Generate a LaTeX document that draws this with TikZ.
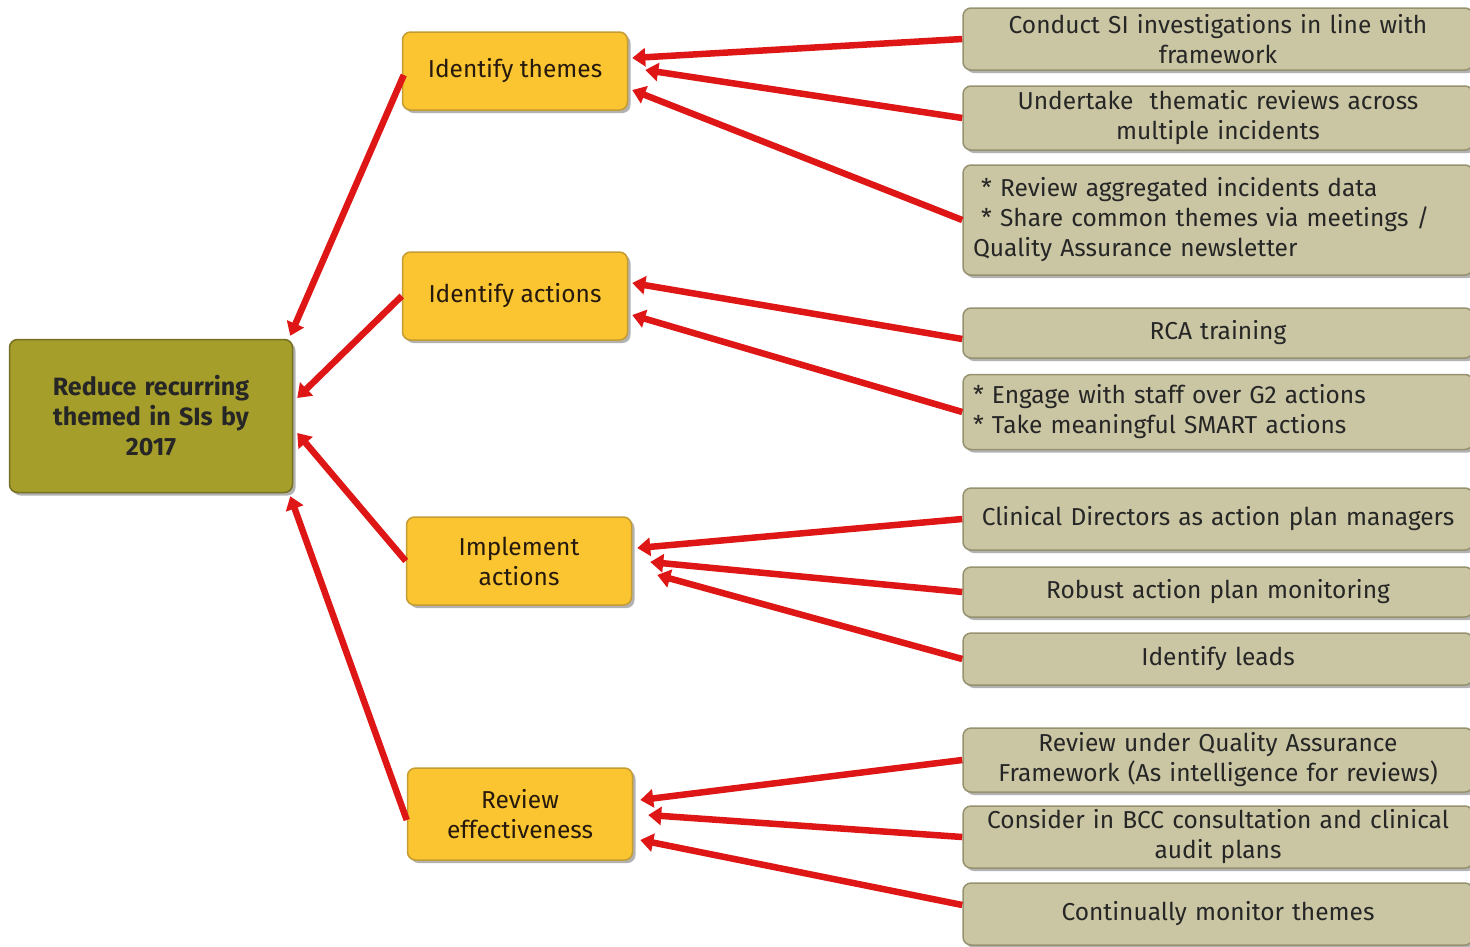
\documentclass[tikz,border=0pt]{standalone}
\usepackage{fontspec}
\setsansfont{Fira Sans}
\usepackage{xcolor}
\usepackage{tikz}
\usetikzlibrary{shapes,arrows.meta,positioning,shadows}

\definecolor{goalfill}{RGB}{166,158,42}
\definecolor{goaldraw}{RGB}{118,112,34}
\definecolor{aimfill}{RGB}{250,197,48}
\definecolor{aimdraw}{RGB}{196,156,52}
\definecolor{actfill}{RGB}{202,198,163}
\definecolor{actdraw}{RGB}{150,146,112}
\definecolor{linkred}{RGB}{222,22,22}

\begin{document}
\begin{tikzpicture}[x=1pt, y=-1pt, font=\sffamily\fontsize{24.5pt}{30pt}\selectfont,
    goalbox/.style={rectangle, draw=goaldraw, line width=1.5pt, fill=goalfill, rounded corners=8pt, text width=260pt, align=center, minimum width=283pt, minimum height=153pt, font=\sffamily\bfseries\fontsize{25pt}{30pt}\selectfont, text=black!85, drop shadow={shadow xshift=3pt, shadow yshift=-3pt, opacity=0.5, fill=black!60}},
    aimbox/.style={rectangle, draw=aimdraw, line width=1.5pt, fill=aimfill, rounded corners=8pt, align=center, minimum width=225pt, minimum height=88pt, text=black!80!brown, drop shadow={shadow xshift=3pt, shadow yshift=-3pt, opacity=0.5, fill=black!60}},
    actbox/.style={rectangle, draw=actdraw, line width=1.5pt, fill=actfill, rounded corners=8pt, text width=490pt, inner xsep=10pt, inner ysep=2pt, align=center, minimum height=62pt, text=black!85, drop shadow={shadow xshift=3pt, shadow yshift=-3pt, opacity=0.5, fill=black!60}},
    link/.style={-{Triangle[length=13pt, width=18pt]}, line width=6.5pt, draw=linkred}]

    \useasboundingbox (0,0) rectangle (1470,946);

    % Goal
    \node[goalbox] (goal) at (151,416) {Reduce recurring\\themed in SIs by\\2017};

    % Aims
    \node[aimbox, minimum height=78pt] (themes) at (515,71) {Identify themes};
    \node[aimbox] (actions) at (515,296) {Identify actions};
    \node[aimbox] (implement) at (519,561) {Implement\\actions};
    \node[aimbox, minimum height=92pt] (review) at (520,814) {Review\\effectiveness};

    % Actions
    \node[actbox] (conduct) at (1218,39) {Conduct SI investigations in line with\\framework};
    \node[actbox, minimum height=64pt] (thematic) at (1218,118) {Undertake\ \ thematic reviews across\\multiple incidents};
    \node[actbox, minimum height=110pt, align=left] (aggregated) at (1218,220) {\ * Review aggregated incidents data\\\ * Share common themes via meetings /\\Quality Assurance newsletter};
    \node[actbox, minimum height=50pt] (rca) at (1218,333) {RCA training};
    \node[actbox, minimum height=75pt, align=left] (engage) at (1218,412) {* Engage with staff over G2 actions\\{}* Take meaningful SMART actions};
    \node[actbox] (directors) at (1218,519) {Clinical Directors as action plan managers};
    \node[actbox, minimum height=50pt] (monitoring) at (1218,592) {Robust action plan monitoring};
    \node[actbox, minimum height=52pt] (leads) at (1218,659) {Identify leads};
    \node[actbox, minimum height=64pt] (qaf) at (1218,760) {Review under Quality Assurance\\Framework (As intelligence for reviews)};
    \node[actbox] (bcc) at (1218,837) {Consider in BCC consultation and clinical\\audit plans};
    \node[actbox] (monitor) at (1218,914) {Continually monitor themes};

    % Actions to aims
    \draw[link] (conduct.west) -- ([xshift=4pt, yshift=13pt]themes.east);
    \draw[link] (thematic.west) -- ([xshift=17pt, yshift=1pt]themes.east);
    \draw[link] (aggregated.west) -- ([xshift=4pt, yshift=-19pt]themes.east);
    \draw[link] ([yshift=-6pt]rca.west) -- ([xshift=4pt, yshift=13pt]actions.east);
    \draw[link] (engage.west) -- ([xshift=4pt, yshift=-19pt]actions.east);
    \draw[link] (directors.west) -- ([xshift=5pt, yshift=13pt]implement.east);
    \draw[link] (monitoring.west) -- ([xshift=18pt, yshift=-1pt]implement.east);
    \draw[link] (leads.west) -- ([xshift=25pt, yshift=-14pt]implement.east);
    \draw[link] (qaf.west) -- ([xshift=7pt, yshift=14pt]review.east);
    \draw[link] (bcc.west) -- ([xshift=15pt, yshift=-1pt]review.east);
    \draw[link] ([yshift=9pt]monitor.west) -- ([xshift=7pt, yshift=-26pt]review.east);

    % Aims to goal
    \draw[link] ([xshift=2pt, yshift=-4pt]themes.west) -- ([xshift=-3pt, yshift=3pt]goal.north east);
    \draw[link] (actions.west) -- ([xshift=4pt, yshift=18pt]goal.east);
    \draw[link] (implement.west) -- ([xshift=4pt, yshift=-17pt]goal.east);
    \draw[link] ([yshift=-6pt]review.west) -- ([xshift=-3pt, yshift=-3pt]goal.south east);

\end{tikzpicture}
\end{document}
